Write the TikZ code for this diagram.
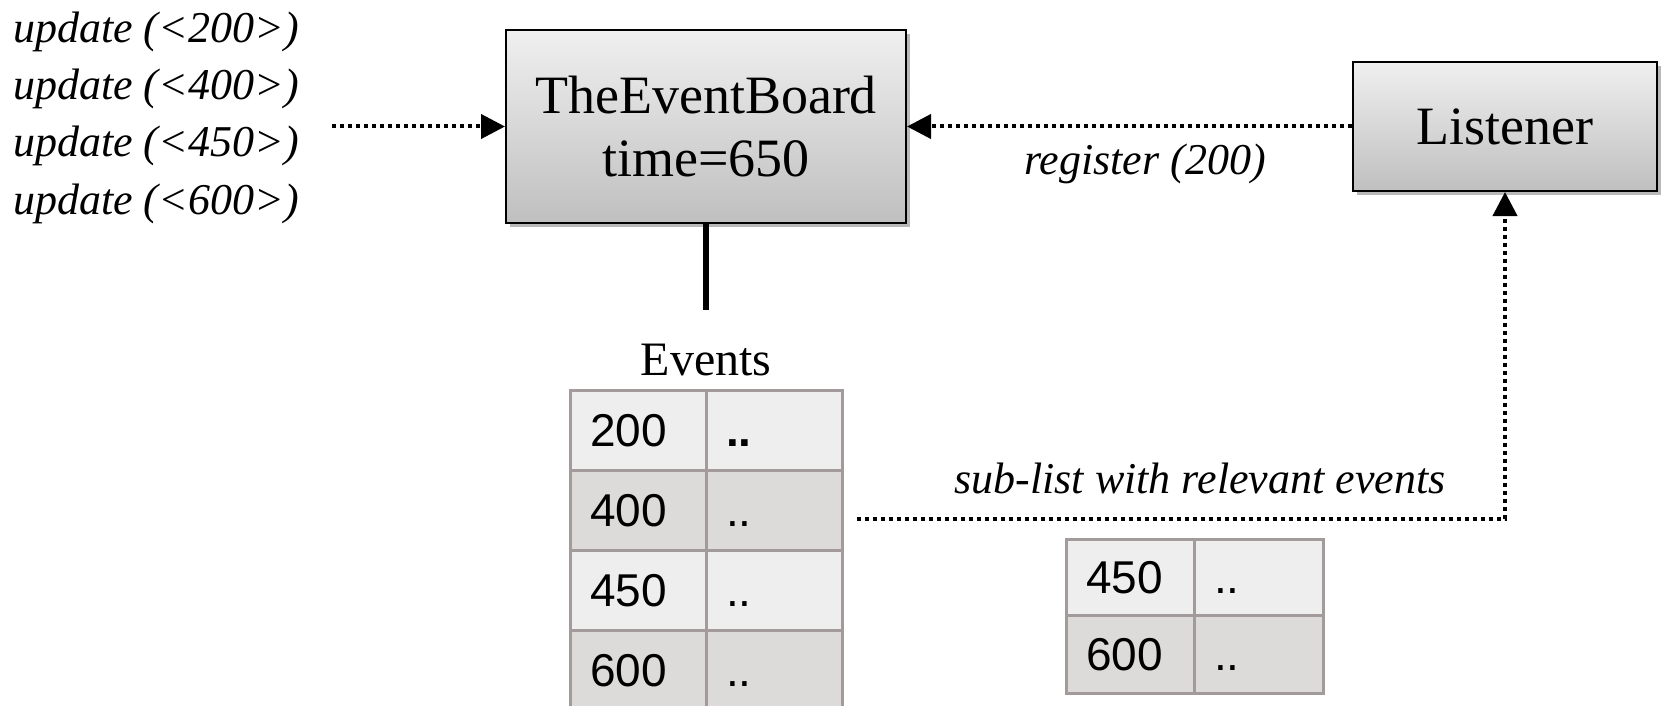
\documentclass[tikz,border=0pt]{standalone}
\usepackage{fontspec}
\setmainfont{Liberation Serif}
\newfontfamily\tabfont{Liberation Sans}
\usetikzlibrary{arrows.meta,shadows}
\definecolor{tabline}{HTML}{A39B9B}
\definecolor{rowlight}{HTML}{EEEEEE}
\definecolor{rowdark}{HTML}{DDDADA}
\begin{document}
\begin{tikzpicture}[x=1pt,y=-1pt,
  box/.style={draw=black, line width=2pt, top color=gray!12, bottom color=gray!50,
    drop shadow={shadow xshift=4pt, shadow yshift=-4pt, fill=gray!55, opacity=1},
    font=\fontsize{54}{63}\selectfont, align=center, inner sep=0pt},
  cell/.style={draw=tabline, line width=3pt, inner xsep=20pt, inner ysep=0pt,
    text height=32pt, text depth=0pt, font=\tabfont\fontsize{46}{46}\selectfont, align=left},
  light/.style={fill=rowlight}, darkrow/.style={fill=rowdark},
  dotarrow/.style={line width=4pt, dash pattern=on 4pt off 4pt, -{Triangle[length=24pt,width=24pt]}},
  lbl/.style={font=\itshape\fontsize{44}{44}\selectfont, inner sep=0pt}
]
\useasboundingbox (0,0) rectangle (1663,706);

% boxes
\node[box, minimum width=400pt, minimum height=193pt] (board) at (706,126.5) {TheEventBoard\\time=650};
\node[box, minimum width=304pt, minimum height=129pt] (listener) at (1505,126.5) {Listener};

% update labels
\node[lbl, anchor=base west] (u1) at (13,43) {update (<200>)};
\node[lbl, anchor=base west] (u2) at (13,100) {update (<400>)};
\node[lbl, anchor=base west] (u3) at (13,157) {update (<450>)};
\node[lbl, anchor=base west] (u4) at (13,214) {update (<600>)};

% Events label
\node[font=\fontsize{48}{48}\selectfont, inner sep=0pt] (events) at (706,360) {Events};

% big table
\node[cell, light, text width=96pt, minimum height=80pt] (a1) at (638,430) {200};
\node[cell, light, text width=96pt, minimum height=80pt] (b1) at (774,430) {\textbf{..}};
\node[cell, darkrow, text width=96pt, minimum height=80pt] (a2) at (638,510) {400};
\node[cell, darkrow, text width=96pt, minimum height=80pt] (b2) at (774,510) {..};
\node[cell, light, text width=96pt, minimum height=80pt] (a3) at (638,590) {450};
\node[cell, light, text width=96pt, minimum height=80pt] (b3) at (774,590) {..};
\node[cell, darkrow, text width=96pt, minimum height=80pt] (a4) at (638,670) {600};
\node[cell, darkrow, text width=96pt, minimum height=80pt] (b4) at (774,670) {..};

% small table
\node[cell, light, text width=88pt, minimum height=76pt] (s1) at (1130,577) {450};
\node[cell, light, text width=89pt, minimum height=76pt] (t1) at (1258.5,577) {..};
\node[cell, darkrow, text width=88pt, minimum height=78pt] (s2) at (1130,654) {600};
\node[cell, darkrow, text width=89pt, minimum height=78pt] (t2) at (1258.5,654) {..};

% labels on connectors
\node[lbl, anchor=base] (reg) at (1145,175) {register (200)};
\node[lbl, anchor=base] (sub) at (1200,493) {sub-list with relevant events};

% connectors
\coordinate (ustart) at (332,126.5);
\draw[dotarrow] (ustart) -- (board.west);
\draw[dotarrow] (listener.west) -- (board.east);
\coordinate (stemend) at (706,310);
\draw[line width=6pt] (board.south) -- (stemend);
\coordinate (slstart) at (857,519);
\draw[dotarrow] (slstart) -| (listener.south);
\end{tikzpicture}
\end{document}
